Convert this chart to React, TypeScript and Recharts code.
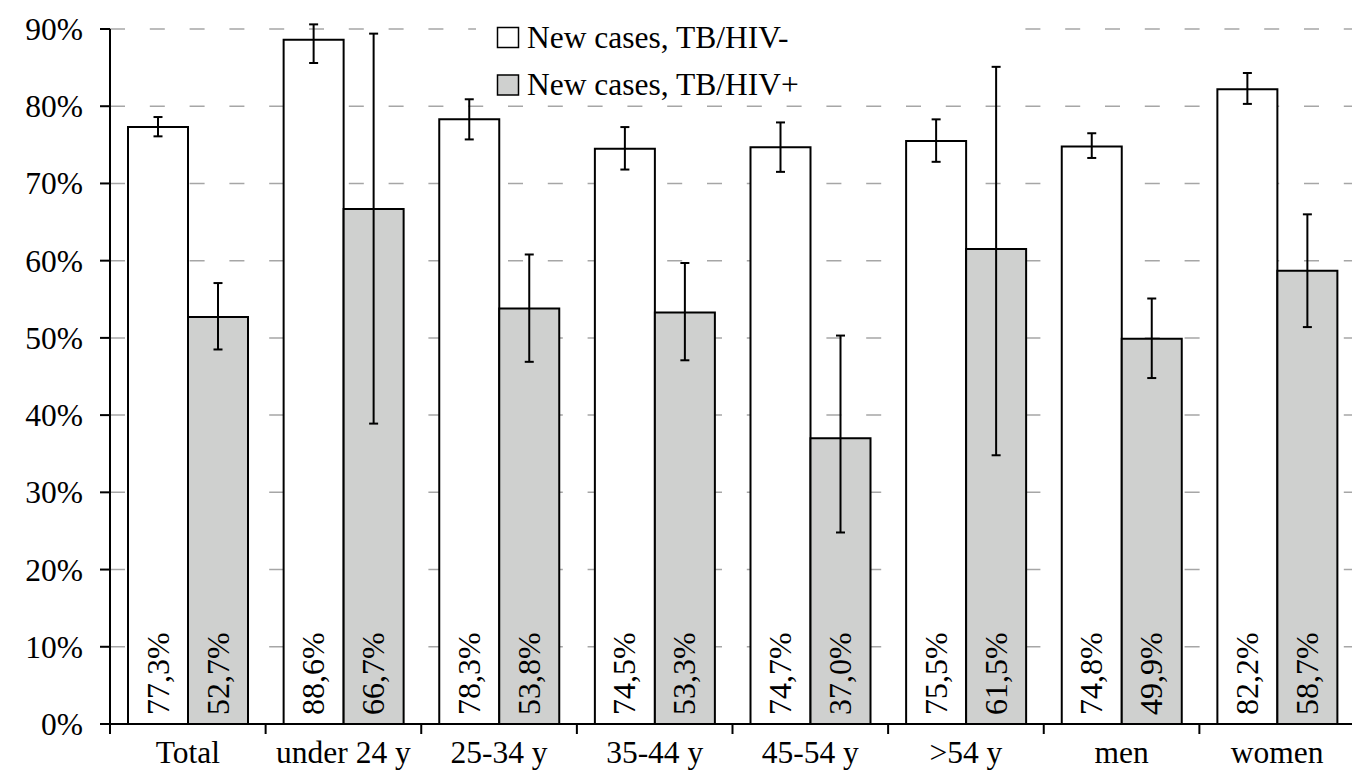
import { BarChart, Bar, XAxis, YAxis, CartesianGrid, ErrorBar, LabelList, Legend } from 'recharts';

const categories = ['Total', 'under 24 y', '25-34 y', '35-44 y', '45-54 y', '>54 y', 'men', 'women'];

// success rates, %, with 95% CI bounds
const hivNeg = [77.3, 88.6, 78.3, 74.5, 74.7, 75.5, 74.8, 82.2];
const hivNegLow = [76.1, 85.6, 75.7, 71.8, 71.5, 72.8, 73.3, 80.3];
const hivNegHigh = [78.6, 90.6, 80.9, 77.3, 77.9, 78.3, 76.5, 84.3];

const hivPos = [52.7, 66.7, 53.8, 53.3, 37.0, 61.5, 49.9, 58.7];
const hivPosLow = [48.5, 38.9, 46.9, 47.1, 24.8, 34.8, 44.8, 51.4];
const hivPosHigh = [57.1, 89.4, 60.8, 59.7, 50.3, 85.1, 55.1, 66.0];

const seriesNames = ['New cases, TB/HIV-', 'New cases, TB/HIV+'];
const yTicks = [0, 10, 20, 30, 40, 50, 60, 70, 80, 90];

const data = categories.map((name, i) => ({
  name,
  neg: hivNeg[i],
  negErr: [hivNeg[i] - hivNegLow[i], hivNegHigh[i] - hivNeg[i]],
  pos: hivPos[i],
  posErr: [hivPos[i] - hivPosLow[i], hivPosHigh[i] - hivPos[i]],
}));

const W = 1360;
const H = 770;
const MARGIN = { top: 29, right: 5, bottom: 0, left: 0 };
const Y_AXIS_W = 110;
const X_AXIS_H = 46;
const AXIS_Y = H - X_AXIS_H;
const BAND = (W - MARGIN.right - Y_AXIS_W) / categories.length;

const SERIF = { fontFamily: 'Liberation Serif, Times New Roman, serif' };
const GREY = '#cfd0cf';

const fmt = (v: number) => v.toFixed(1).replace('.', ',') + '%';

function CategoryTick(props: any) {
  const { x, payload } = props;
  const left = x - BAND / 2;
  return (
    <g>
      <line x1={left} x2={left} y1={AXIS_Y} y2={AXIS_Y + 10} stroke="#000" strokeWidth={2} />
      <text x={x} y={H - 7} textAnchor="middle" style={{ ...SERIF, fontSize: 31.5 }} fill="#000">
        {payload.value}
      </text>
    </g>
  );
}

function PercentTick(props: any) {
  const { x, y, payload } = props;
  return (
    <text x={x} y={y} dy={11} textAnchor="end" style={{ ...SERIF, fontSize: 31.5 }} fill="#000">
      {`${payload.value}%`}
    </text>
  );
}

const renderValue = (props: any) => {
  const { x, y, width, height, value } = props;
  const cx = x + width / 2;
  const by = y + height - 9;
  return (
    <text
      x={cx}
      y={by}
      dy={10.5}
      transform={`rotate(-90 ${cx} ${by})`}
      style={{ ...SERIF, fontSize: 32 }}
      fill="#000"
    >
      {fmt(value)}
    </text>
  );
};

const renderLegend = () => {
  const fills = ['#ffffff', GREY];
  return (
    <svg width={544} height={100} style={{ overflow: 'visible', display: 'block' }}>
      <rect x={0} y={0} width={544} height={46} fill="#fff" />
      {seriesNames.map((name, i) => (
        <g key={name}>
          <rect x={21.5} y={13.5 + i * 47.5} width={21} height={20} fill={fills[i]} stroke="#000" strokeWidth={1.5} />
          <text x={51} y={34.3 + i * 47} style={{ ...SERIF, fontSize: 31.5 }} fill="#000">
            {name}
          </text>
        </g>
      ))}
    </svg>
  );
};

export default function App() {
  return (
    <div style={{ position: 'absolute', left: 0, top: 0, width: 1352, height: H, overflow: 'hidden', background: '#fff', ...SERIF }}>
      <BarChart width={W} height={H} data={data} margin={MARGIN} barCategoryGap={18} barGap={0}>
        <CartesianGrid vertical={false} stroke="#a6a6a6" strokeWidth={1.5} strokeDasharray="15 24.8" />
        <XAxis
          dataKey="name"
          height={X_AXIS_H}
          axisLine={{ stroke: '#000', strokeWidth: 2 }}
          tickLine={false}
          tick={<CategoryTick />}
          interval={0}
        />
        <YAxis
          width={Y_AXIS_W}
          domain={[0, 90]}
          ticks={yTicks}
          allowDataOverflow
          axisLine={{ stroke: '#000', strokeWidth: 2 }}
          tickLine={{ stroke: '#000', strokeWidth: 2 }}
          tickSize={10}
          tickMargin={17}
          tick={<PercentTick />}
        />
        <Legend
          layout="vertical"
          align="center"
          verticalAlign="middle"
          content={renderLegend}
          wrapperStyle={{ left: 476, top: 14, width: 544, height: 46 }}
        />
        <Bar dataKey="neg" name={seriesNames[0]} fill="#ffffff" stroke="#000" strokeWidth={2} isAnimationActive={false}>
          <ErrorBar dataKey="negErr" width={4.5} stroke="#000" strokeWidth={2} />
          <LabelList dataKey="neg" content={renderValue} />
        </Bar>
        <Bar dataKey="pos" name={seriesNames[1]} fill={GREY} stroke="#000" strokeWidth={2} isAnimationActive={false}>
          <ErrorBar dataKey="posErr" width={4.5} stroke="#000" strokeWidth={2} />
          <LabelList dataKey="pos" content={renderValue} />
        </Bar>
      </BarChart>
    </div>
  );
}
